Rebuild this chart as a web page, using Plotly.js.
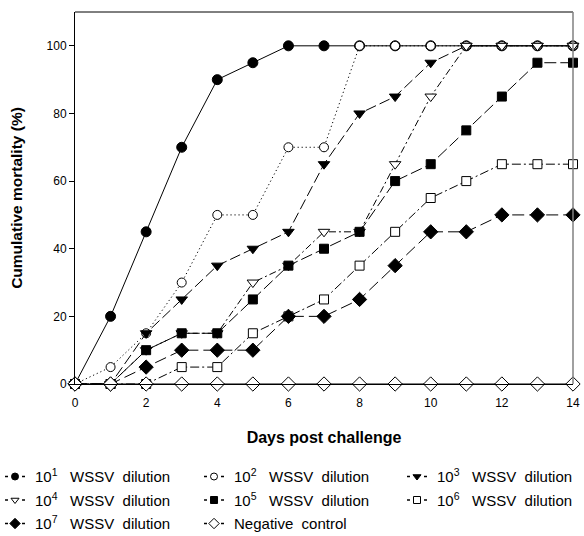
<!DOCTYPE html>
<html>
<head>
<meta charset="utf-8">
<script src="https://cdn.plot.ly/plotly-3.0.1.min.js"></script>
<style>html,body{margin:0;padding:0;background:#fff;}#chart{width:584px;height:536px;}</style>
</head>
<body>
<div id="chart"></div>
<script>
var days = [0,1,2,3,4,5,6,7,8,9,10,11,12,13,14];
var d1 = [0,20,45,70,90,95,100,100,100,100,100,100,100,100,100];
var d2 = [0,5,15,30,50,50,70,70,100,100,100,100,100,100,100];
var d3 = [0,0,15,25,35,40,45,65,80,85,95,100,100,100,100];
var d4 = [0,0,10,15,15,30,35,45,45,65,85,100,100,100,100];
var d5 = [0,0,10,15,15,25,35,40,45,60,65,75,85,95,95];
var d6 = [0,0,0,5,5,15,20,25,35,45,55,60,65,65,65];
var d7 = [0,0,5,10,10,10,20,20,25,35,45,45,50,50,50];
var neg = [0,0,0,0,0,0,0,0,0,0,0,0,0,0,0];
var yTicks = [0,20,40,60,80,100];
var xTicks = [0,2,4,6,8,10,12,14];
var SA = '\u00a0\u00a0\u00a0', SB = '\u00a0\u00a0';
var names = [
  '10<sup>1</sup>' + SA + 'WSSV' + SB + 'dilution',
  '10<sup>2</sup>' + SA + 'WSSV' + SB + 'dilution',
  '10<sup>3</sup>' + SA + 'WSSV' + SB + 'dilution',
  '10<sup>4</sup>' + SA + 'WSSV' + SB + 'dilution',
  '10<sup>5</sup>' + SA + 'WSSV' + SB + 'dilution',
  '10<sup>6</sup>' + SA + 'WSSV' + SB + 'dilution',
  '10<sup>7</sup>' + SA + 'WSSV' + SB + 'dilution',
  'Negative' + SB + 'control'
];
var symbols = ['circle', 'circle', 'triangle-down', 'triangle-down', 'square', 'square', 'diamond', 'diamond'];
var fills = ['#000', '#fff', '#000', '#fff', '#000', '#fff', '#000', '#fff'];
var sizes = [10, 9, 10, 10, 9, 9, 11, 11];
var legSizes = [7, 7, 7, 7, 7, 7, 8, 8];
var dashes = ['solid', '1.2px,2.8px', '11px,4px', '7px,3px,2px,3px', '12px,4px', '9px,3px,2px,3px', '12px,5px', 'solid'];
var legendIds = ['legend', 'legend2', 'legend3', 'legend', 'legend2', 'legend3', 'legend', 'legend2'];
var series = [d1, d2, d3, d4, d5, d6, d7, neg];

var traces = [];
series.forEach(function(y, i) {
  traces.push({
    x: days, y: y, type: 'scatter', mode: 'lines+markers', cliponaxis: false, showlegend: false,
    line: {color: '#000', width: 1, dash: dashes[i]},
    marker: {symbol: symbols[i], size: sizes[i], color: fills[i], line: {color: '#000', width: 1}}
  });
});
// legend keys in the "-●-" style
series.forEach(function(y, i) {
  traces.push({
    x: [null], y: [null], type: 'scatter', mode: 'lines+markers', name: names[i],
    legend: legendIds[i], legendgroup: 'g' + i, showlegend: true,
    line: {color: '#000', width: 1.3, dash: '0px,5px,3px,14px,3px,100px'},
    marker: {symbol: symbols[i], size: legSizes[i], color: fills[i], line: {color: '#000', width: 1}}
  });
});

var legFont = {family: 'Liberation Sans, Arial, sans-serif', size: 15, color: '#000'};
function leg(x) {
  return {orientation: 'v', x: x, y: -0.205, xanchor: 'left', yanchor: 'top',
    bgcolor: 'rgba(0,0,0,0)', borderwidth: 0, font: legFont, itemwidth: 30, tracegroupgap: 1};
}

var layout = {
  width: 584, height: 536,
  margin: {l: 75, r: 11, t: 12, b: 152, autoexpand: false},
  paper_bgcolor: '#fff', plot_bgcolor: '#fff',
  font: {family: 'Liberation Sans, Arial, sans-serif', color: '#000', size: 12},
  showlegend: true,
  xaxis: {
    range: [0, 14], tickvals: xTicks, ticks: '', showgrid: false, zeroline: false,
    showline: true, linecolor: '#000', linewidth: 1, automargin: false,
    ticklabelstandoff: 8,
    tickfont: {size: 12, color: '#000'},
    title: {text: 'Days post challenge', font: {size: 16, weight: 'bold', color: '#000'}, standoff: 22}
  },
  yaxis: {
    range: [0, 110], tickvals: yTicks, ticks: 'outside', ticklen: 5, tickcolor: '#000', showgrid: false, zeroline: false,
    showline: true, linecolor: '#000', linewidth: 1, automargin: false,
    tickfont: {size: 12, color: '#000'},
    title: {text: 'Cumulative mortality (%)', font: {size: 15.5, weight: 'bold', color: '#000'}, standoff: 20}
  },
  shapes: [
    {type: 'line', xref: 'paper', yref: 'paper', x0: 0, x1: 1, y0: 1, y1: 1, line: {color: '#000', width: 1}},
    {type: 'line', xref: 'paper', yref: 'paper', x0: 1, x1: 1, y0: 0, y1: 1, line: {color: '#808080', width: 1.5}}
  ],
  legend: leg(-0.1606),
  legend2: leg(0.239),
  legend3: leg(0.6466)
};
Plotly.newPlot('chart', traces, layout, {displayModeBar: false, staticPlot: true});
</script>
</body>
</html>
